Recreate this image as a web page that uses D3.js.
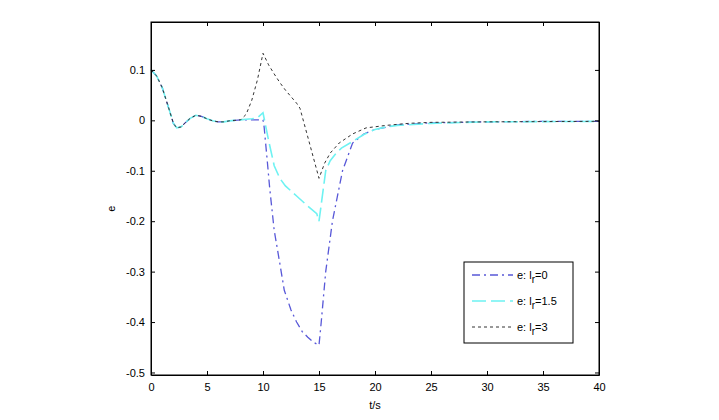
<!DOCTYPE html>
<html>
<head>
<meta charset="utf-8">
<script src="https://cdn.jsdelivr.net/npm/d3@7"></script>
<style>
  body { margin: 0; background: #fff; }
  svg { font-family: "Liberation Sans", Arial, sans-serif; }
</style>
</head>
<body>
<svg id="chart" width="719" height="420"></svg>
<script>
// common start of all three responses (t = 0 .. 8 s)
const tStart = [0, 0.5, 1, 1.5, 2, 2.3, 2.7, 3, 3.5, 4, 4.5, 5, 5.5, 6, 6.5, 7, 7.5, 8];
const eStart = [0.1, 0.088, 0.065, 0.03, -0.006, -0.015, -0.013, -0.006, 0.004, 0.01, 0.008, 0.003, -0.001, -0.003, -0.003, -0.001, 0.0, 0.001];

// l_r = 0
const tBlue = [8.5, 9, 9.5, 10, 10.1, 10.4, 10.6, 11, 11.45, 11.9, 12.5, 13, 13.5, 14, 14.5, 15, 15.2, 15.6, 16.2, 17.1, 18, 19, 20, 22, 25, 30, 35, 40];
const eBlue = [0.001, 0.001, 0.001, 0.001, -0.013, -0.085, -0.135, -0.218, -0.277, -0.337, -0.376, -0.4, -0.419, -0.43, -0.44, -0.446, -0.4, -0.3, -0.2, -0.1, -0.045, -0.027, -0.018, -0.009, -0.005, -0.003, -0.002, -0.002];

// l_r = 1.5
const tCyan = [8.5, 9, 9.5, 10, 10.5, 11, 11.5, 12, 13, 14, 14.8, 15, 15.3, 15.6, 16, 16.5, 17, 18, 19, 20, 21, 22, 25, 30, 40];
const eCyan = [0.002, 0.003, 0.005, 0.015, -0.04, -0.09, -0.115, -0.13, -0.15, -0.17, -0.185, -0.2, -0.15, -0.1, -0.08, -0.066, -0.055, -0.042, -0.028, -0.018, -0.013, -0.01, -0.006, -0.003, -0.002];

// l_r = 3
const tBlack = [8.5, 9, 9.5, 10, 10.5, 11, 11.5, 12, 12.5, 13, 13.3, 14, 15, 15.5, 16, 16.8, 18, 19.2, 21, 23, 25, 30, 40];
const eBlack = [0.012, 0.04, 0.08, 0.133, 0.11, 0.092, 0.075, 0.06, 0.047, 0.034, 0.024, -0.033, -0.115, -0.085, -0.065, -0.045, -0.027, -0.015, -0.01, -0.006, -0.004, -0.003, -0.002];

const xTicks = d3.range(0, 41, 5);
const yTicks = [0.1, 0, -0.1, -0.2, -0.3, -0.4, -0.5];

const series = [
  { lr: "0", t: tBlue, e: eBlue, color: "#5858d8", dash: "8,4,2,4", width: 1.3 },
  { lr: "1.5", t: tCyan, e: eCyan, color: "#6ef2f2", dash: "14,5", width: 1.6 },
  { lr: "3", t: tBlack, e: eBlack, color: "#333", dash: "3,3", width: 1 }
];

const svg = d3.select("#chart");
const mLeft = 151, mRight = 599, mTop = 22, mBottom = 375;

const x = d3.scaleLinear().domain([0, 40]).range([mLeft, mRight]);
const y = d3.scaleLinear().domain([-0.505, 0.195]).range([mBottom, mTop]);

svg.append("rect").attr("width", 719).attr("height", 420).attr("fill", "#fff");

const line = d3.line().x(d => x(d[0])).y(d => y(d[1]));

const plot = svg.append("g");
series.forEach(s => {
  const pts = tStart.map((t, i) => [t, eStart[i]])
    .concat(s.t.map((t, i) => [t, s.e[i]]));
  plot.append("path")
    .datum(pts)
    .attr("d", line)
    .attr("fill", "none")
    .attr("stroke", s.color)
    .attr("stroke-width", s.width)
    .attr("stroke-dasharray", s.dash);
});

// axes: ticks inside, mirrored on top/right; plain hyphen minus like matlab
const fmt = d => String(d);
svg.append("g").attr("transform", `translate(0,${mBottom})`)
  .call(d3.axisBottom(x).tickValues(xTicks).tickSizeInner(-4).tickSizeOuter(0).tickPadding(8).tickFormat(fmt));
svg.append("g").attr("transform", `translate(0,${mTop})`)
  .call(d3.axisTop(x).tickValues(xTicks).tickSizeInner(-4).tickSizeOuter(0).tickFormat(""));
svg.append("g").attr("transform", `translate(${mLeft},0)`)
  .call(d3.axisLeft(y).tickValues(yTicks).tickSizeInner(-4).tickSizeOuter(0).tickPadding(6).tickFormat(fmt));
svg.append("g").attr("transform", `translate(${mRight},0)`)
  .call(d3.axisRight(y).tickValues(yTicks).tickSizeInner(-4).tickSizeOuter(0).tickFormat(""));

svg.selectAll(".domain").attr("stroke", "#000");
svg.selectAll(".tick line").attr("stroke", "#000");
svg.selectAll(".tick text").attr("font-size", 11).attr("fill", "#000")
  .attr("font-family", "'Liberation Sans', Arial, sans-serif");

svg.append("rect")
  .attr("x", mLeft).attr("y", mTop)
  .attr("width", mRight - mLeft).attr("height", mBottom - mTop)
  .attr("fill", "none").attr("stroke", "#000").attr("stroke-width", 1);

svg.append("text").attr("x", x(20)).attr("y", 409)
  .attr("text-anchor", "middle").attr("font-size", 11).text("t/s");
svg.append("text")
  .attr("transform", `translate(115,${y(-0.175)}) rotate(-90)`)
  .attr("text-anchor", "middle").attr("font-size", 11).text("e");

// legend
const lg = svg.append("g").attr("transform", "translate(464,262)");
lg.append("rect").attr("width", 109).attr("height", 81)
  .attr("fill", "#fff").attr("stroke", "#000").attr("stroke-width", 1);
series.forEach((s, i) => {
  const yy = 13 + i * 26;
  lg.append("line").attr("x1", 8).attr("x2", 49).attr("y1", yy).attr("y2", yy)
    .attr("stroke", s.color).attr("stroke-width", s.width)
    .attr("stroke-dasharray", s.dash);
  const txt = lg.append("text").attr("x", 53).attr("y", yy + 4).attr("font-size", 11);
  txt.append("tspan").text("e: l");
  txt.append("tspan").attr("dy", 4).attr("font-size", 10).text("r");
  txt.append("tspan").attr("dy", -4).text("=" + s.lr);
});
</script>
</body>
</html>
